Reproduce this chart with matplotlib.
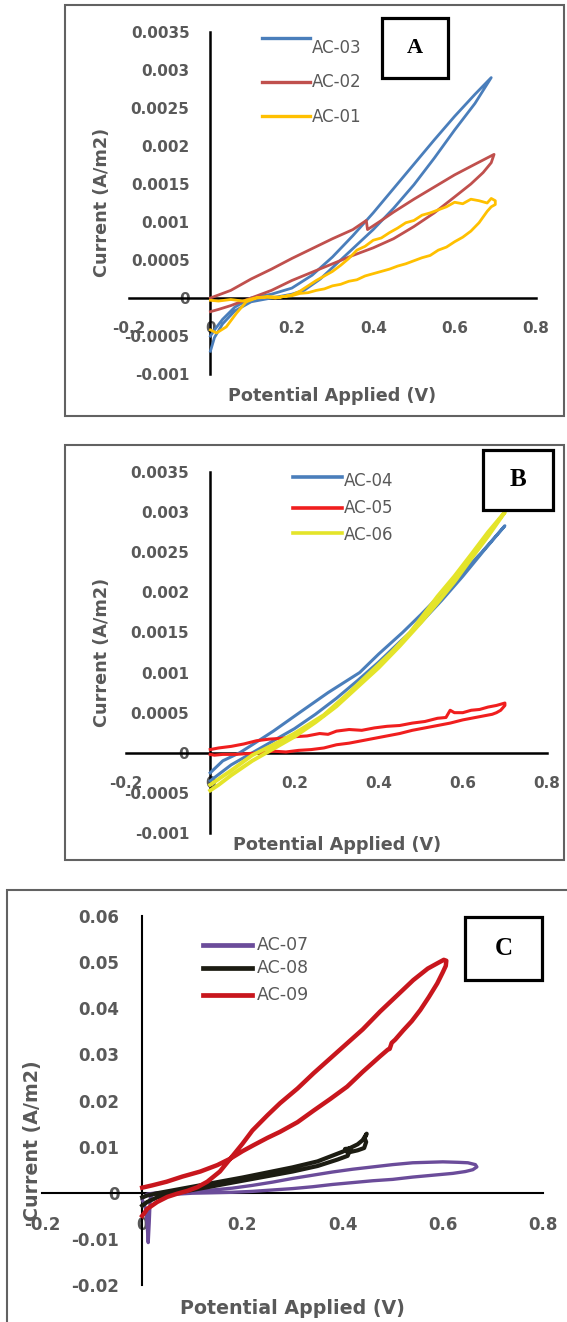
import numpy as np
import matplotlib
matplotlib.use("Agg")
import matplotlib.pyplot as plt
from matplotlib.lines import Line2D
from matplotlib.patches import Rectangle

W, H = 567, 1322
GRAY = "#595959"

# ---- panel A : current in 1e-4 A/m2 ----
ac03_v = [0, 0.01, 0.03, 0.06, 0.1, 0.15, 0.2, 0.23, 0.27, 0.3, 0.35, 0.4, 0.45, 0.5, 0.55, 0.6, 0.65, 0.69,
          0.65, 0.6, 0.55, 0.5, 0.45, 0.4, 0.35, 0.3, 0.25, 0.2, 0.15, 0.1, 0.06, 0.03, 0.01, 0]
ac03_i = [-7.0, -5.2, -3.4, -1.7, -0.5, 0.0, 0.5, 1.0, 2.5, 4.0, 6.5, 9.0, 11.8, 14.9, 18.4, 22.1, 25.6, 29.0,
          26.8, 23.9, 20.8, 17.6, 14.4, 11.2, 8.2, 5.4, 3.0, 1.3, 0.5, 0.0, -1.2, -2.8, -4.2, -5.0]

ac02_v = [0, 0.05, 0.1, 0.15, 0.2, 0.25, 0.3, 0.35, 0.383, 0.386, 0.42, 0.45, 0.5, 0.55, 0.6, 0.65, 0.697,
          0.69, 0.67, 0.64, 0.6, 0.55, 0.5, 0.45, 0.4, 0.35, 0.3, 0.25, 0.2, 0.15, 0.1, 0.05, 0.02, 0]
ac02_i = [0.0, 1.0, 2.5, 3.8, 5.2, 6.5, 7.8, 9.0, 10.2, 9.0, 10.2, 11.3, 13.0, 14.6, 16.2, 17.6, 18.9,
          17.8, 16.5, 15.0, 13.3, 11.2, 9.4, 7.8, 6.6, 5.6, 4.5, 3.4, 2.3, 1.0, 0.0, -1.0, -1.5, -1.8]

ac01_v = [0, 0.02, 0.05, 0.08, 0.11, 0.14, 0.17, 0.2, 0.22, 0.24, 0.26, 0.28, 0.30, 0.32, 0.34, 0.36, 0.38,
          0.40, 0.42, 0.44, 0.46, 0.48, 0.50, 0.52, 0.54, 0.56, 0.58, 0.60, 0.62, 0.64, 0.66, 0.68, 0.69, 0.70,
          0.70, 0.69, 0.68, 0.66, 0.64, 0.62, 0.60, 0.58, 0.56, 0.54, 0.52, 0.50, 0.48, 0.46, 0.44, 0.42, 0.40,
          0.38, 0.36, 0.34, 0.32, 0.30, 0.28, 0.26, 0.24, 0.22, 0.20, 0.18, 0.16, 0.14, 0.113, 0.088, 0.064,
          0.039, 0.015, 0]
ac01_i = [-0.3, -0.4, -0.2, -0.4, 0.0, 0.2, 0.1, 0.4, 0.9, 1.6, 2.3, 2.9, 3.5, 4.3, 5.2, 6.3, 6.8,
          7.6, 7.9, 8.6, 9.2, 9.9, 10.2, 10.9, 11.2, 11.6, 12.0, 12.6, 12.4, 13.0, 12.8, 12.5, 13.1, 12.8,
          12.3, 12.0, 11.4, 9.9, 8.8, 8.0, 7.4, 6.7, 6.3, 5.6, 5.3, 4.9, 4.5, 4.2, 3.8, 3.5, 3.2,
          2.9, 2.4, 2.2, 1.8, 1.6, 1.2, 1.0, 0.7, 0.6, 0.3, 0.2, 0.0, 0.1, 0.0, -0.5, -2.0,
          -3.8, -4.6, -4.2]

# ---- panel B : current in 1e-4 A/m2 ----
ac04_v = [0, 0.03, 0.07, 0.1, 0.15, 0.212, 0.28, 0.355, 0.4, 0.457, 0.5, 0.552, 0.6, 0.645, 0.7,
          0.65, 0.6, 0.55, 0.5, 0.45, 0.4, 0.35, 0.3, 0.25, 0.2, 0.15, 0.1, 0.05, 0.02, 0]
ac04_i = [-2.5, -1.0, 0.0, 1.0, 2.7, 5.0, 7.5, 10.0, 12.3, 15.0, 17.2, 20.0, 22.5, 25.0, 28.3,
          25.2, 22.0, 19.0, 16.2, 13.8, 11.3, 9.0, 6.8, 4.8, 3.0, 1.5, 0.0, -1.5, -2.7, -3.5]

ac05_v = [0, 0.02, 0.05, 0.08, 0.11, 0.14, 0.17, 0.20, 0.23, 0.26, 0.28, 0.30, 0.33, 0.36, 0.39, 0.42,
          0.45, 0.48, 0.51, 0.54, 0.56, 0.57, 0.58, 0.60, 0.62, 0.64, 0.66, 0.68, 0.70,
          0.70, 0.69, 0.68, 0.67, 0.65, 0.62, 0.60, 0.57, 0.54, 0.51, 0.48, 0.45, 0.42, 0.39, 0.36,
          0.33, 0.30, 0.27, 0.24, 0.21, 0.18, 0.15, 0.12, 0.09, 0.06, 0.03, 0.01, 0]
ac05_i = [0.4, 0.6, 0.8, 1.1, 1.5, 1.7, 1.8, 2.0, 2.1, 2.4, 2.3, 2.7, 2.9, 2.8, 3.1, 3.3,
          3.4, 3.7, 3.9, 4.3, 4.4, 5.3, 5.0, 5.0, 5.3, 5.4, 5.7, 5.9, 6.2,
          5.9, 5.3, 5.0, 4.8, 4.6, 4.3, 4.1, 3.7, 3.4, 3.1, 2.8, 2.4, 2.1, 1.8, 1.5,
          1.2, 1.0, 0.6, 0.4, 0.3, 0.1, 0.2, 0.0, -0.1, -0.2, -0.2, -0.3, -0.2]

ac06_v = [0, 0.05, 0.1, 0.15, 0.2, 0.27, 0.33, 0.38, 0.43, 0.475, 0.54, 0.58, 0.624, 0.66, 0.7,
          0.66, 0.62, 0.58, 0.54, 0.5, 0.45, 0.4, 0.35, 0.3, 0.25, 0.2, 0.15, 0.1, 0.05, 0.02, 0]
ac06_i = [-4.0, -2.2, -0.3, 1.0, 2.4, 4.7, 7.5, 10.0, 12.5, 15.0, 19.5, 22.0, 25.0, 27.5, 30.0,
          27.0, 24.2, 21.3, 18.7, 16.2, 13.3, 10.6, 8.2, 5.8, 3.8, 2.0, 0.5, -1.0, -2.8, -4.0, -4.7]

# ---- panel C : current in 1e-3 A/m2 ----
ac07_v = [0.0, 0.004, 0.008, 0.010, 0.012, 0.014, 0.016, 0.02, 0.04, 0.07, 0.10, 0.14, 0.18, 0.22, 0.26,
          0.30, 0.34, 0.38, 0.42, 0.46, 0.50, 0.54, 0.58, 0.62, 0.645, 0.66, 0.668, 0.665, 0.65, 0.63,
          0.60, 0.57, 0.54, 0.50, 0.46, 0.42, 0.38, 0.34, 0.30, 0.26, 0.22, 0.18, 0.14, 0.10, 0.06,
          0.03, 0.01, 0.003]
ac07_i = [-1.5, -2.5, -4.0, -7.0, -10.8, -6.5, -1.2, -0.4, -0.2, -0.3, -0.1, 0.0, 0.1, 0.3, 0.6,
          0.9, 1.3, 1.8, 2.2, 2.6, 2.9, 3.4, 3.8, 4.2, 4.6, 5.0, 5.6, 6.1, 6.5, 6.6,
          6.7, 6.6, 6.5, 6.1, 5.6, 5.1, 4.5, 3.8, 3.1, 2.3, 1.6, 1.0, 0.6, 0.3, 0.1,
          0.0, -0.3, -1.0]

ac08_v = [0, 0.01, 0.03, 0.06, 0.10, 0.15, 0.20, 0.25, 0.30, 0.35, 0.39, 0.41, 0.416, 0.405, 0.41,
          0.43, 0.443, 0.447, 0.444, 0.448, 0.44, 0.43, 0.40, 0.35, 0.30, 0.25, 0.20, 0.15, 0.10,
          0.06, 0.03, 0.01, 0]
ac08_i = [-2.8, -2.0, -1.0, -0.2, 0.6, 1.6, 2.6, 3.6, 4.6, 5.8, 7.2, 8.0, 9.6, 9.5, 8.7,
          9.2, 9.7, 11.0, 11.8, 12.8, 11.4, 10.5, 8.9, 6.8, 5.5, 4.4, 3.3, 2.3, 1.3,
          0.5, -0.1, -0.6, -1.0]

ac09_v = [0, 0.005, 0.01, 0.03, 0.05, 0.07, 0.09, 0.11, 0.13, 0.155, 0.176, 0.20, 0.22, 0.25, 0.275,
          0.31, 0.342, 0.375, 0.409, 0.44, 0.475, 0.51, 0.541, 0.57, 0.59, 0.602, 0.607, 0.606, 0.6,
          0.589, 0.572, 0.555, 0.538, 0.521, 0.505, 0.498, 0.494, 0.49, 0.475, 0.44, 0.409, 0.375,
          0.342, 0.31, 0.275, 0.25, 0.222, 0.2, 0.176, 0.15, 0.116, 0.08, 0.049, 0.02, 0]
ac09_i = [-5.0, -4.3, -3.5, -2.0, -0.9, -0.2, 0.4, 1.2, 2.4, 4.6, 7.4, 10.6, 13.5, 16.8, 19.4,
          22.6, 25.9, 29.1, 32.4, 35.4, 39.3, 42.9, 46.1, 48.6, 49.8, 50.5, 50.3, 49.2, 47.8,
          45.4, 42.4, 39.6, 37.2, 35.2, 33.2, 32.5, 31.2, 31.0, 29.6, 26.2, 23.0, 20.3,
          17.8, 15.3, 13.2, 11.9, 10.3, 9.0, 7.4, 6.0, 4.6, 3.5, 2.4, 1.6, 1.1]

x_ticks = [-0.2, 0, 0.2, 0.4, 0.6, 0.8]
x_labels = ["-0.2", "0", "0.2", "0.4", "0.6", "0.8"]
ab_yticks = [-0.001, -0.0005, 0, 0.0005, 0.001, 0.0015, 0.002, 0.0025, 0.003, 0.0035]
ab_ylabels = ["-0.001", "-0.0005", "0", "0.0005", "0.001", "0.0015", "0.002", "0.0025", "0.003", "0.0035"]
c_yticks = [-0.02, -0.01, 0, 0.01, 0.02, 0.03, 0.04, 0.05, 0.06]
c_ylabels = ["-0.02", "-0.01", "0", "0.01", "0.02", "0.03", "0.04", "0.05", "0.06"]

fig = plt.figure(figsize=(W / 100, H / 100), dpi=100)


def fx(x):
    return x / W


def fy(y):
    return 1 - y / H


def make_axes(l, t, r, b, ylim, yticks, ylabels, xpad, ypad, fs, axis_lw):
    ax = fig.add_axes([fx(l), fy(b), (r - l) / W, (b - t) / H])
    ax.patch.set_alpha(0)
    ax.set_xlim(-0.2, 0.8)
    ax.set_ylim(*ylim)
    for s in ["top", "right"]:
        ax.spines[s].set_visible(False)
    ax.spines["left"].set_position(("data", 0))
    ax.spines["bottom"].set_position(("data", 0))
    for s in ["left", "bottom"]:
        ax.spines[s].set_linewidth(axis_lw)
        ax.spines[s].set_color("black")
    ax.set_xticks(x_ticks)
    ax.set_xticklabels(x_labels, fontweight="bold", fontsize=fs, color=GRAY)
    ax.set_yticks(yticks)
    ax.set_yticklabels(ylabels, fontweight="bold", fontsize=fs, color=GRAY)
    ax.tick_params(axis="x", length=0, pad=xpad)
    ax.tick_params(axis="y", length=0, pad=ypad)
    return ax


def panel_frame(l, t, r, b):
    fig.add_artist(Rectangle((fx(l), fy(b)), (r - l) / W, (b - t) / H, transform=fig.transFigure,
                             fill=False, edgecolor="#626262", lw=1.5, zorder=0))


def letter_box(l, t, r, b, letter, fs):
    fig.add_artist(Rectangle((fx(l), fy(b)), (r - l) / W, (b - t) / H, transform=fig.transFigure,
                             facecolor="white", edgecolor="black", lw=2.3, zorder=4))
    fig.text(fx((l + r) / 2), fy((t + b) / 2), letter, ha="center", va="center", fontsize=fs,
             fontweight="bold", family="Liberation Serif", zorder=5)


def legend(entries, x0, x1, xt, rows, fs, lw):
    for (name, color), (yl, yt) in zip(entries, rows):
        fig.add_artist(Line2D([fx(x0), fx(x1)], [fy(yl), fy(yl)], color=color, lw=lw,
                              transform=fig.transFigure))
        fig.text(fx(xt), fy(yt), name, ha="left", va="center", fontsize=fs, color=GRAY)


def axis_titles(xl, yl, fs):
    fig.text(fx(xl[0]), fy(xl[1]), "Potential Applied (V)", ha="center", va="center",
             fontsize=fs, fontweight="bold", color=GRAY)
    fig.text(fx(yl[0]), fy(yl[1]), "Current (A/m2)", ha="center", va="center", rotation=90,
             fontsize=fs, fontweight="bold", color=GRAY)


# panel A
panel_frame(65, 5, 564, 416)
axA = make_axes(129, 32, 536, 374, (-0.001, 0.0035), ab_yticks, ab_ylabels, 16.5, 15, 11, 1.8)
cA = {"AC-03": "#4A7EBB", "AC-02": "#C0504D", "AC-01": "#FFC000"}
axA.plot(ac03_v, np.array(ac03_i) * 1e-4, color=cA["AC-03"], lw=2.0, zorder=3)
axA.plot(ac02_v, np.array(ac02_i) * 1e-4, color=cA["AC-02"], lw=2.0, zorder=3)
axA.plot(ac01_v, np.array(ac01_i) * 1e-4, color=cA["AC-01"], lw=2.0, zorder=3)
axis_titles((332, 396), (102, 202), 12.7)
legend(list(cA.items()), 262, 310, 312, [(38, 48), (82, 82), (116, 117)], 12, 2.4)
letter_box(382, 18, 448, 78, "A", 16)

# panel B
panel_frame(65, 445, 564, 860)
axB = make_axes(126, 472, 547, 833, (-0.001, 0.0035), ab_yticks, ab_ylabels, 16.5, 15, 11, 1.8)
cB = {"AC-04": "#4A7EBB", "AC-05": "#F01E1E", "AC-06": "#E4E42A"}
axB.plot(ac04_v, np.array(ac04_i) * 1e-4, color=cB["AC-04"], lw=2.2, zorder=3)
axB.plot(ac05_v, np.array(ac05_i) * 1e-4, color=cB["AC-05"], lw=2.2, zorder=3)
axB.plot(ac06_v, np.array(ac06_i) * 1e-4, color=cB["AC-06"], lw=2.8, zorder=3)
axis_titles((337, 845), (102, 652), 12.7)
legend(list(cB.items()), 293, 342, 344, [(477, 481), (508, 508), (533, 535)], 12, 2.6)
letter_box(483, 450, 553, 510, "B", 18)

# panel C
panel_frame(7, 890, 580, 1340)
axC = make_axes(42, 916, 543, 1285, (-0.02, 0.06), c_yticks, c_ylabels, 17, 16.5, 12, 1.5)
cC = {"AC-07": "#6B4C9A", "AC-08": "#1C1C12", "AC-09": "#C8161D"}
axC.plot(ac07_v, np.array(ac07_i) * 1e-3, color=cC["AC-07"], lw=2.4, zorder=3)
axC.plot(ac08_v, np.array(ac08_i) * 1e-3, color=cC["AC-08"], lw=3.0, zorder=3)
axC.plot(ac09_v, np.array(ac09_i) * 1e-3, color=cC["AC-09"], lw=3.2, zorder=3)
axis_titles((292, 1308), (33, 1141), 13.7)
legend(list(cC.items()), 203, 252, 257, [(945, 945), (968, 968), (995, 995)], 12.5, 3.4)
letter_box(465, 917, 542, 980, "C", 18)

fig.savefig("out.png", dpi=100)
